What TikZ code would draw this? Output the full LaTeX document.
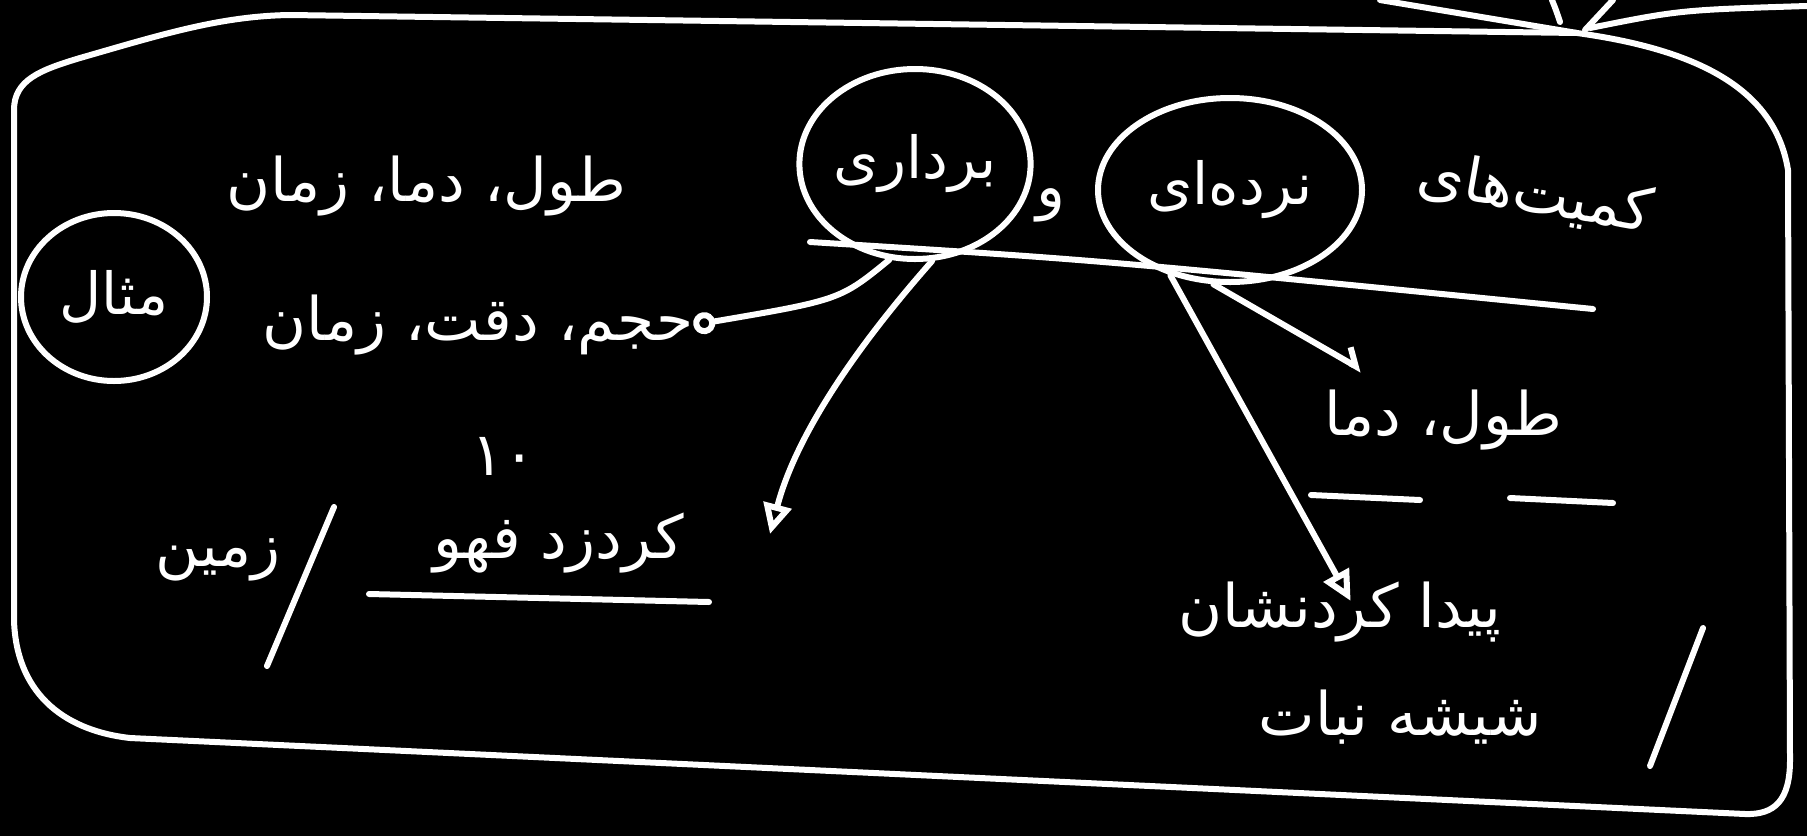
\documentclass[tikz,border=0pt]{standalone}
\usepackage{fontspec}
\newfontfamily\fa[Script=Arabic]{DejaVu Sans}
\TeXXeTstate=1
\usetikzlibrary{shapes.geometric,arrows.meta}
\tikzset{
	chalk/.style = {
		draw=white,
		line width=6pt,
		line cap=round,
		line join=round
	},
	word/.style = {
		text=white,
		inner sep=0pt,
		font=\fa\fontsize{60}{68}\selectfont
	},
	ring/.style = {
		shape=ellipse,
		draw=white,
		line width=6pt,
		inner sep=0pt,
		text=white,
		font=\fa\fontsize{58}{66}\selectfont
	},
	tip/.style = {-{Triangle[open,length=30pt,width=28pt]}}
}

\begin{document}
\begin{tikzpicture}[x=1pt,y=-1pt]
		\useasboundingbox (0,0) rectangle (1807,836);
		\fill[black] (0,0) rectangle (1807,836);
		% frame of the board
		\draw[chalk] (1577,33) .. controls (1700,50) and (1775,90) .. (1788,170)
			-- (1790,760) .. controls (1790,800) and (1775,815) .. (1745,814)
			-- (130,738) .. controls (60,730) and (16,690) .. (14,620)
			-- (14,110) .. controls (14,80) and (40,70) .. (80,58)
			.. controls (160,35) and (220,16) .. (290,15) -- (1577,33);
		\draw[chalk] (1380,0) -- (1577,33);
		\draw[chalk] (1552,0) .. controls (1556,10) .. (1560,22);
		\draw[chalk] (1613,0) -- (1585,30);
		\draw[chalk] (1590,28) .. controls (1680,10) .. (1807,6);
		% title
		\node[word, rotate=-10] (kmt) at (1535,194) {\beginR کمیت‌های\endR};
		\node[ring, minimum width=264pt, minimum height=184pt] (nrd) at (1230,190) {\beginR نرده‌ای\endR};
		\node[word] (va) at (1051,205) {\beginR و\endR};
		\node[ring, minimum width=222pt, minimum height=190pt] (brd) at (915,164) {\beginR برداری\endR};
		\draw[chalk] (810,242) .. controls (1100,260) .. (1593,309);
		% left side
		\node[ring, minimum width=186pt, minimum height=168pt] (msl) at (114,297) {\beginR مثال\endR};
		\node[word] (ex1) at (426,186) {\beginR طول، دما، زمان\endR};
		\node[word] (ex2) at (478,325) {\beginR حجم، دقت، زمان\endR};
		\node[word] (ten) at (504,456) {\beginR ۱۰\endR};
		\node[word] (bl) at (559,543) {\beginR کردزد فهو\endR};
		\node[word] (zmn) at (218,560) {\beginR زمین\endR};
		\draw[chalk] (369,594) -- (709,602);
		\draw[chalk] (334,507) -- (267,666);
		\coordinate (tipb) at (770,534);
		\draw[chalk, -{Circle[open,length=22pt]}] (brd.-105) .. controls (840,300) .. (ex2.east);
		\draw[chalk, tip] (brd.-80) .. controls (880,320) and (800,420) .. (tipb);
		% right side
		\node[word] (rt) at (1443,420) {\beginR طول، دما\endR};
		\draw[chalk] (1311,495) -- (1420,500);
		\draw[chalk] (1510,498) -- (1613,503);
		\node[word] (br1) at (1340,612) {\beginR پیدا کردنشان\endR};
		\node[word] (br2) at (1400,717) {\beginR شیشه نبات\endR};
		\draw[chalk] (1703,628) -- (1650,766);
		\coordinate (tipr) at (1362,370);
		\draw[chalk, -{Straight Barb[left,length=14pt]}] (nrd.-100) -- (tipr);
		\draw[chalk, tip, shorten >=-22pt] (nrd.-125) -- (br1.north);
\end{tikzpicture}
\end{document}
